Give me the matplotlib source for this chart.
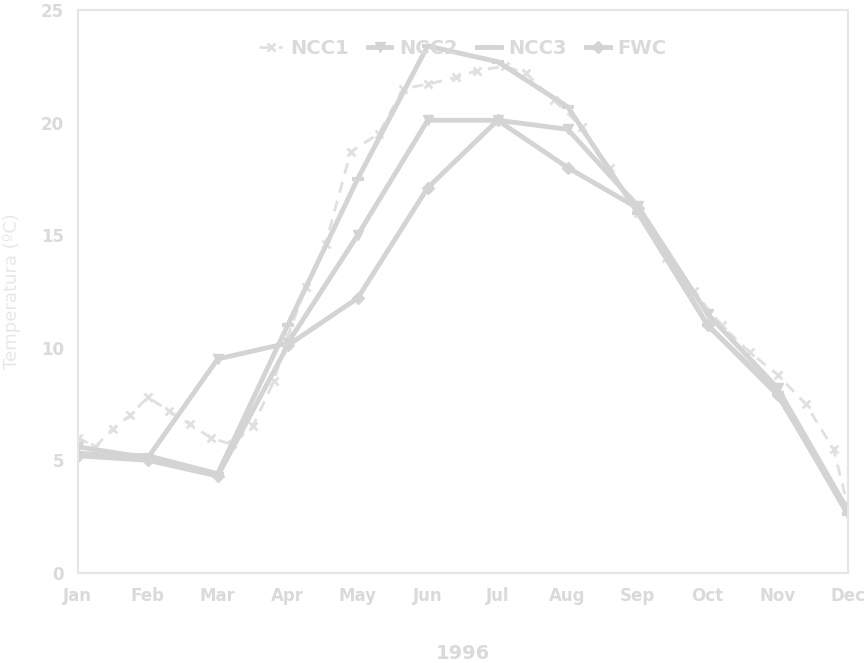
import numpy as np
from matplotlib import pyplot as plt

# monthly tick labels
months = ["Jan", "Feb", "Mar", "Apr", "May", "Jun", "Jul", "Aug", "Sep", "Oct", "Nov", "Dec"]
month_pos = list(range(12))

# NCC1 sampled roughly every week or two (x in months from Jan)
ncc1_x = [0, 0.25, 0.5, 0.75, 1.0, 1.3, 1.6, 1.9, 2.2, 2.5, 2.8, 3.0, 3.26, 3.54, 3.9,
          4.3, 4.65, 5.0, 5.4, 5.7, 6.1, 6.4, 6.8, 7.2, 7.6, 8.0, 8.4, 8.8, 9.2, 9.6,
          10.0, 10.4, 10.8, 11.0]
ncc1_y = [6.0, 5.6, 6.4, 7.0, 7.8, 7.2, 6.6, 6.0, 5.7, 6.5, 8.5, 10.5, 12.7, 14.6, 18.7,
          19.5, 21.5, 21.7, 22.0, 22.3, 22.5, 22.2, 21.0, 19.8, 18.0, 16.0, 14.0, 12.5,
          11.0, 9.8, 8.8, 7.5, 5.5, 3.0]

# monthly series
ncc2 = [5.6, 5.1, 9.5, 10.2, 15.0, 20.1, 20.1, 19.7, 16.3, 11.5, 8.2, 2.8]
ncc3 = [5.3, 5.2, 4.4, 11.0, 17.5, 23.4, 22.7, 20.7, 16.0, 11.0, 8.0, 2.6]
fwc = [5.2, 5.0, 4.3, 10.1, 12.2, 17.1, 20.1, 18.0, 16.2, 11.0, 7.9, 2.7]

line_col = "#d4d4d4"
text_col = "#dadada"

fig = plt.figure(figsize=(8.64, 6.63), dpi=100)
ax = fig.add_axes([0.090, 0.136, 0.891, 0.849])

ax.plot(ncc1_x, ncc1_y, color="#e0e0e0", lw=2, ls=(0, (4, 3)), marker="x",
        ms=6, mew=2, label="NCC1")
ax.plot(month_pos, ncc2, color=line_col, lw=3.5, marker="v", ms=7, label="NCC2")
ax.plot(month_pos, ncc3, color=line_col, lw=3.5, marker="_", ms=9, mew=3, label="NCC3")
ax.plot(month_pos, fwc, color=line_col, lw=3.5, marker="D", ms=6, label="FWC")

ax.set_xlim(0, 11)
ax.set_ylim(0, 25)
ax.set_xticks(month_pos)
ax.set_xticklabels(months)
ax.set_yticks([0, 5, 10, 15, 20, 25])
ax.tick_params(colors=text_col, labelsize=12, length=0, pad=10)
for lab in ax.get_xticklabels() + ax.get_yticklabels():
    lab.set_fontweight("bold")

for pos in ['right', 'top', 'bottom', 'left']:
    ax.spines[pos].set_color("#e6e6e6")
    ax.spines[pos].set_linewidth(1.5)

ax.set_xlabel("1996", color=text_col, fontsize=14, fontweight="bold", labelpad=28)
ax.set_ylabel("Temperatura (ºC)", color="#e8e8e8", fontsize=13, labelpad=14)

ax.legend(loc="upper center", ncol=4, frameon=False, handlelength=1.2,
          handletextpad=0.4, columnspacing=1.0, bbox_to_anchor=(0.5, 0.98),
          labelcolor=text_col, prop={"weight": "bold", "size": 14})

fig.savefig("out.png", dpi=100)
